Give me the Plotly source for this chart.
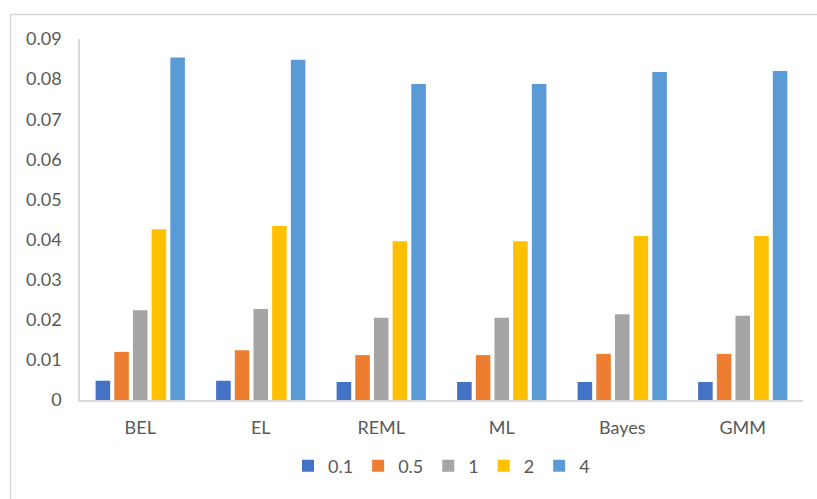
import plotly.graph_objects as go

categories = ["BEL", "EL", "REML", "ML", "Bayes", "GMM"]
series_names = ["0.1", "0.5", "1", "2", "4"]
v_01 = [0.0048, 0.0048, 0.0045, 0.0045, 0.0045, 0.0045]
v_05 = [0.0120, 0.0124, 0.0112, 0.0112, 0.0115, 0.0115]
v_1 = [0.0224, 0.0227, 0.0205, 0.0205, 0.0214, 0.0210]
v_2 = [0.0426, 0.0434, 0.0396, 0.0396, 0.0409, 0.0409]
v_4 = [0.0854, 0.0848, 0.0788, 0.0788, 0.0818, 0.0820]
colors = ["#4472C4", "#ED7D31", "#A5A5A5", "#FFC000", "#5B9BD5"]

series_values = [v_01, v_05, v_1, v_2, v_4]

FONT = "Lato, 'Open Sans', sans-serif"
TXT = "#595959"

fig = go.Figure()
for name, vals, col in zip(series_names, series_values, colors):
    fig.add_trace(go.Bar(x=categories, y=vals, name=name,
                         marker=dict(color=col, line=dict(width=0))))

W, H = 817, 499
L, R, T, B = 80, 14, 39, 99
pw = W - L - R
ph = H - T - B

def px_to_paper_x(px):
    return (px - L) / pw

def px_to_paper_y(py):
    return (H - B - py) / ph

fig.update_layout(
    width=W, height=H,
    margin=dict(l=L, r=R, t=T, b=B),
    paper_bgcolor="white", plot_bgcolor="white",
    barmode="group", bargap=0.225, bargroupgap=0.22,
    font=dict(family=FONT, size=18, color=TXT),
    showlegend=True,
    legend=dict(orientation="h", x=0.5, xanchor="center",
                y=px_to_paper_y(466), yanchor="middle",
                font=dict(family=FONT, size=18, color=TXT),
                itemwidth=30, tracegroupgap=0, itemclick=False),
    xaxis=dict(showline=True, linecolor="#D9D9D9", linewidth=2,
               showgrid=False, ticks="", ticklabelstandoff=10,
               tickfont=dict(family=FONT, size=18, color=TXT)),
    yaxis=dict(range=[0, 0.09], dtick=0.01, tick0=0,
               showline=True, linecolor="#D9D9D9", linewidth=1.5,
               showgrid=False, zeroline=False, ticks="",
               ticklabelstandoff=13,
               tickfont=dict(family=FONT, size=18, color=TXT)),
    shapes=[dict(type="rect", xref="paper", yref="paper",
                 x0=px_to_paper_x(10.5), x1=px_to_paper_x(830),
                 y0=px_to_paper_y(520), y1=px_to_paper_y(14.5),
                 line=dict(color="#D9D9D9", width=1.5),
                 fillcolor="rgba(0,0,0,0)", layer="below")],
)

fig.write_html("out.html")
